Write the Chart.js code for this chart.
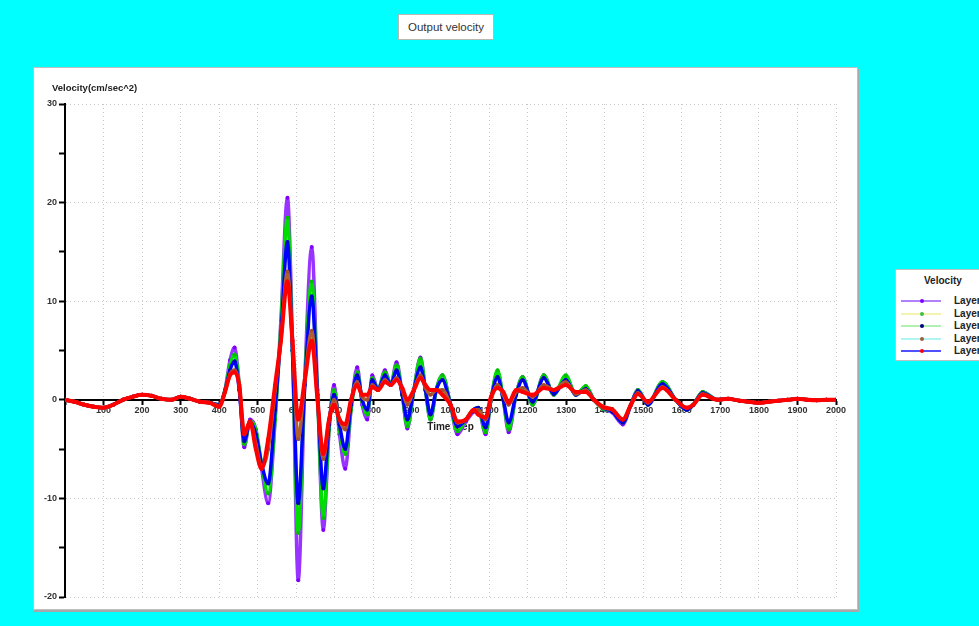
<!DOCTYPE html>
<html>
<head>
<meta charset="utf-8">
<script src="https://cdn.jsdelivr.net/npm/chart.js@4/dist/chart.umd.min.js"></script>
<style>
  html, body { margin:0; padding:0; width:979px; height:626px; overflow:hidden; background:#00FFFF; font-family: Arial, "Liberation Sans", sans-serif; }
  #title { position:absolute; left:398px; top:14px; width:96px; height:26px; background:#fff; border:1px solid #b8b8b0; box-sizing:border-box; font-size:11.5px; color:#333; text-align:center; line-height:24px; }
  #panel { position:absolute; left:33px; top:67px; width:825px; height:543px; background:#fff; border:1px solid #c0c0c0; box-sizing:border-box; box-shadow: 1px 2px 0 #a8a8a8; }
  #chart { position:absolute; left:0; top:0; }
  #ytitle { position:absolute; left:18px; top:14px; font-size:9.5px; font-weight:bold; color:#222; }
  #legend { position:absolute; left:895px; top:269px; width:100px; height:92px; background:#fff; border:1px solid #c0c0c0; box-sizing:border-box; }
  #legend .lt { font-size:10px; font-weight:bold; color:#222; position:absolute; left:28px; top:5px; }
  #legend .it { position:absolute; left:5px; height:10px; width:100px; }
  #legend .ln { position:absolute; left:0; top:4px; width:40px; height:2px; }
  #legend .dt { position:absolute; left:19px; top:3px; width:4px; height:4px; border-radius:2px; }
  #legend .tx { position:absolute; left:53px; top:-1px; font-size:10px; font-weight:bold; color:#222; line-height:12px; }
</style>
</head>
<body>
<div id="title">Output velocity</div>
<div id="panel">
  <canvas id="chart" width="823" height="541"></canvas>
  <div id="ytitle">Velocity(cm/sec^2)</div>
</div>
<div id="legend"></div>
<script>
// ---- data ----
const steps = [0,25,50,75,100,125,150,175,200,225,250,275,300,325,350,375,400,
  415,428,440,452,465,480,495,510,527,545,560,577,590,605,622,640,655,670,685,698,712,727,742,758,771,784,797,812,830,845,860,875,888,905,922,935,948,963,979,1000,1018,1040,1060,1072,1091,1105,1122,1137,1151,1170,1187,1213,1242,1268,1299,1325,1351,1372,1395,1420,1447,1468,1486,1512,1550,1584,1613,1630,1654,1693,1720,1750,1775,1800,1825,1850,1875,1900,1925,1950,1975,2000];

const layer1 = [0,-0.2,-0.5,-0.7,-0.8,-0.5,0,0.3,0.5,0.4,0.1,0,0.3,0.1,-0.2,-0.3,-0.5,
  1.0,4.0,5.3,1.5,-4.8,-2.0,-3.0,-7.0,-10.5,-2.0,8.0,20.5,6.0,-18.3,2.0,15.5,1.0,-13.2,-3.0,1.5,-3.5,-7.0,-1.0,3.3,-0.5,-2.0,2.5,1.0,3.0,1.5,3.8,0.5,-2.9,1.0,4.3,1.0,-2.0,1.0,2.5,-0.5,-3.5,-2.2,-1.2,-0.9,-3.5,0,2.8,0,-3.3,0.5,2.3,-0.5,2.5,0.5,2.3,0.6,1.3,0,-0.9,-1.3,-2.5,-0.5,1.0,-0.4,1.8,0,-1.0,-0.5,0.8,0,0.1,-0.1,-0.2,-0.3,-0.2,-0.1,0,0.1,0,-0.05,0,0];

const layer2 = [0,-0.2,-0.5,-0.7,-0.8,-0.5,0,0.3,0.5,0.4,0.1,0,0.3,0.1,-0.2,-0.3,-0.5,
  1.0,3.5,4.6,1.5,-4.5,-2.2,-3.0,-6.5,-9.5,-2.0,7.5,18.5,5.0,-13.5,2.0,12.0,0.5,-12.0,-3.0,1.0,-3.0,-5.5,-1.0,2.8,-0.2,-1.5,2.2,1.0,2.8,1.5,3.5,0.5,-2.7,1.0,4.2,1.0,-2.0,1.0,2.5,-0.5,-3.2,-2.0,-1.0,-0.8,-3.3,0,3.0,0,-3.0,0.5,2.3,-0.5,2.5,0.5,2.5,0.5,1.4,0,-0.9,-1.2,-2.3,-0.5,1.0,-0.5,1.8,0,-1.0,-0.5,0.8,0,0.1,-0.1,-0.2,-0.3,-0.2,-0.1,0,0.1,0,-0.05,0,0];

const layer3 = [0,-0.2,-0.5,-0.7,-0.8,-0.5,0,0.3,0.5,0.4,0.1,0,0.3,0.1,-0.2,-0.3,-0.5,
  0.9,3.0,3.9,1.0,-4.2,-2.2,-3.5,-6.5,-8.5,-1.0,6.5,16.0,5.0,-10.5,1.5,10.5,0.5,-9.0,-2.5,0.5,-2.5,-5.0,-0.5,2.5,0,-1.0,2.0,1.0,2.5,1.5,3.0,0.5,-2.0,1.0,3.3,1.0,-1.5,1.0,2.0,-0.5,-2.7,-2.0,-1.0,-0.8,-2.8,0,2.3,0,-2.3,0.5,2.0,-0.2,2.2,0.6,2.0,0.5,1.1,0,-0.8,-1.2,-2.3,-0.5,0.9,-0.5,1.6,0,-1.0,-0.5,0.7,0,0.1,-0.1,-0.2,-0.3,-0.2,-0.1,0,0.1,0,-0.05,0,0];

const layer4 = [0,-0.2,-0.5,-0.7,-0.8,-0.5,0,0.3,0.5,0.4,0.1,0,0.3,0.1,-0.2,-0.3,-0.6,
  0.8,2.6,3.0,1.5,-3.5,-2.2,-4.5,-6.8,-5.0,1.0,6.0,13.0,6.0,-4.0,2.0,7.0,0,-6.0,-2.0,0,-2.0,-3.0,0,1.8,0.3,0,1.5,1.0,2.0,1.5,2.2,1.0,-0.5,1.0,2.5,1.2,0.5,1.0,1.0,-0.5,-2.3,-2.0,-1.0,-1.0,-2.0,0,1.5,0.5,-0.5,0.8,1.2,0.3,1.5,1.0,1.8,0.6,1.0,0,-0.8,-1.0,-2.0,-0.5,0.7,-0.3,1.3,0,-0.8,-0.5,0.6,0,0.1,-0.1,-0.2,-0.3,-0.2,-0.1,0,0.1,0,-0.05,0,0];

const layer5 = [0,-0.2,-0.5,-0.7,-0.8,-0.5,0,0.3,0.5,0.4,0.1,0,0.3,0.1,-0.2,-0.3,-0.7,
  0.8,2.5,2.8,1.5,-3.5,-2.2,-5.0,-7.0,-4.0,1.5,6.0,12.0,6.0,-2.0,2.0,6.0,0,-5.5,-2.0,-0.5,-2.0,-2.5,0,1.5,0.5,0.5,1.3,1.0,1.8,1.5,2.0,1.2,0,1.0,2.2,1.5,1.0,1.0,0.5,-0.5,-2.2,-2.0,-1.0,-1.5,-1.8,0.3,1.2,0.8,-0.3,1.0,0.8,0.5,1.2,1.0,1.5,0.8,0.8,0,-0.7,-1.0,-2.0,-0.5,0.6,-0.2,1.2,0,-0.8,-0.5,0.5,0,0.1,-0.1,-0.2,-0.3,-0.2,-0.1,0,0.1,0,-0.05,0,0];

const seriesNames = ['Layer1','Layer2','Layer3','Layer4','Layer5'];
const xTickLabels = [100,200,300,400,500,600,700,800,900,1000,1100,1200,1300,1400,1500,1600,1700,1800,1900,2000];
const yTickLabels = [30,20,10,0,-10,-20];

// ---- styles ----
const lineColors   = ['#9933ff','#00dd00','#0000ff','#b06030','#ff0000'];
const pointColors  = ['#8000ff','#00c000','#0000c0','#a05030','#ff0000'];
const legendLines  = ['#b080ff','#f4f4b0','#b0f0b0','#b0f4f4','#5050ff'];
const legendDots   = ['#8000ff','#40c040','#000080','#a06040','#ff0000'];
const allSeries = [layer1, layer2, layer3, layer4, layer5];

const datasets = allSeries.map((vals, i) => ({
  label: seriesNames[i],
  data: steps.map((s, k) => ({x: s, y: vals[k]})),
  borderColor: lineColors[i],
  backgroundColor: pointColors[i],
  pointBackgroundColor: pointColors[i],
  pointBorderColor: pointColors[i],
  pointRadius: 2,
  pointBorderWidth: 0,
  borderWidth: i === 4 ? 4 : 3.5,
  cubicInterpolationMode: 'monotone',
  order: 5 - i
}));

Chart.defaults.font.family = 'Arial, "Liberation Sans", sans-serif';

new Chart(document.getElementById('chart'), {
  type: 'line',
  data: { datasets },
  options: {
    responsive: false,
    animation: false,
    devicePixelRatio: 1,
    layout: { padding: { left: 8, top: 36, right: 21, bottom: 12 } },
    plugins: { legend: { display: false }, tooltip: { enabled: false } },
    scales: {
      x: {
        type: 'linear',
        position: { y: 0 },
        min: 0, max: 2000,
        afterBuildTicks: (ax) => { ax.ticks = [0].concat(xTickLabels).map(v => ({value: v})); },
        ticks: {
          callback: (v) => v === 0 ? '' : String(v),
          font: { size: 9, weight: 'bold' }, color: '#333', padding: 1, maxRotation: 0, autoSkip: false
        },
        grid: { color: '#c8c8c8', lineWidth: 1, tickColor: '#000', tickLength: 4, tickWidth: 2 },
        border: { display: true, color: '#000', width: 2, dash: [1, 3] },
        title: { display: true, text: 'Time step', font: { size: 10, weight: 'bold' }, color: '#222', padding: { top: 5 } }
      },
      y: {
        type: 'linear',
        min: -20, max: 30,
        afterBuildTicks: (ax) => {
          const t = [];
          for (let k = 0; k < yTickLabels.length; k++) {
            t.push({value: yTickLabels[k]});
            if (k < yTickLabels.length - 1) t.push({value: (yTickLabels[k] + yTickLabels[k+1]) / 2});
          }
          ax.ticks = t;
        },
        ticks: {
          callback: (v) => yTickLabels.includes(v) ? String(v) : '',
          font: { size: 9, weight: 'bold' }, color: '#333', padding: 2
        },
        grid: {
          color: (c) => (c.tick && yTickLabels.includes(c.tick.value) && c.tick.value !== 0) ? '#c8c8c8' : 'rgba(0,0,0,0)',
          lineWidth: 1, tickColor: '#000', tickLength: 6, tickWidth: 2
        },
        border: { display: true, color: '#000', width: 2, dash: [1, 3] }
      }
    }
  }
});

// ---- legend (HTML, built from the series names) ----
const lg = document.getElementById('legend');
lg.innerHTML = '<div class="lt">Velocity</div>' + seriesNames.map((n, i) =>
  `<div class="it" style="top:${26 + i * 12.5}px"><div class="ln" style="background:${legendLines[i]}"></div>` +
  `<div class="dt" style="background:${legendDots[i]}"></div><div class="tx">${n}</div></div>`).join('');
</script>
</body>
</html>
